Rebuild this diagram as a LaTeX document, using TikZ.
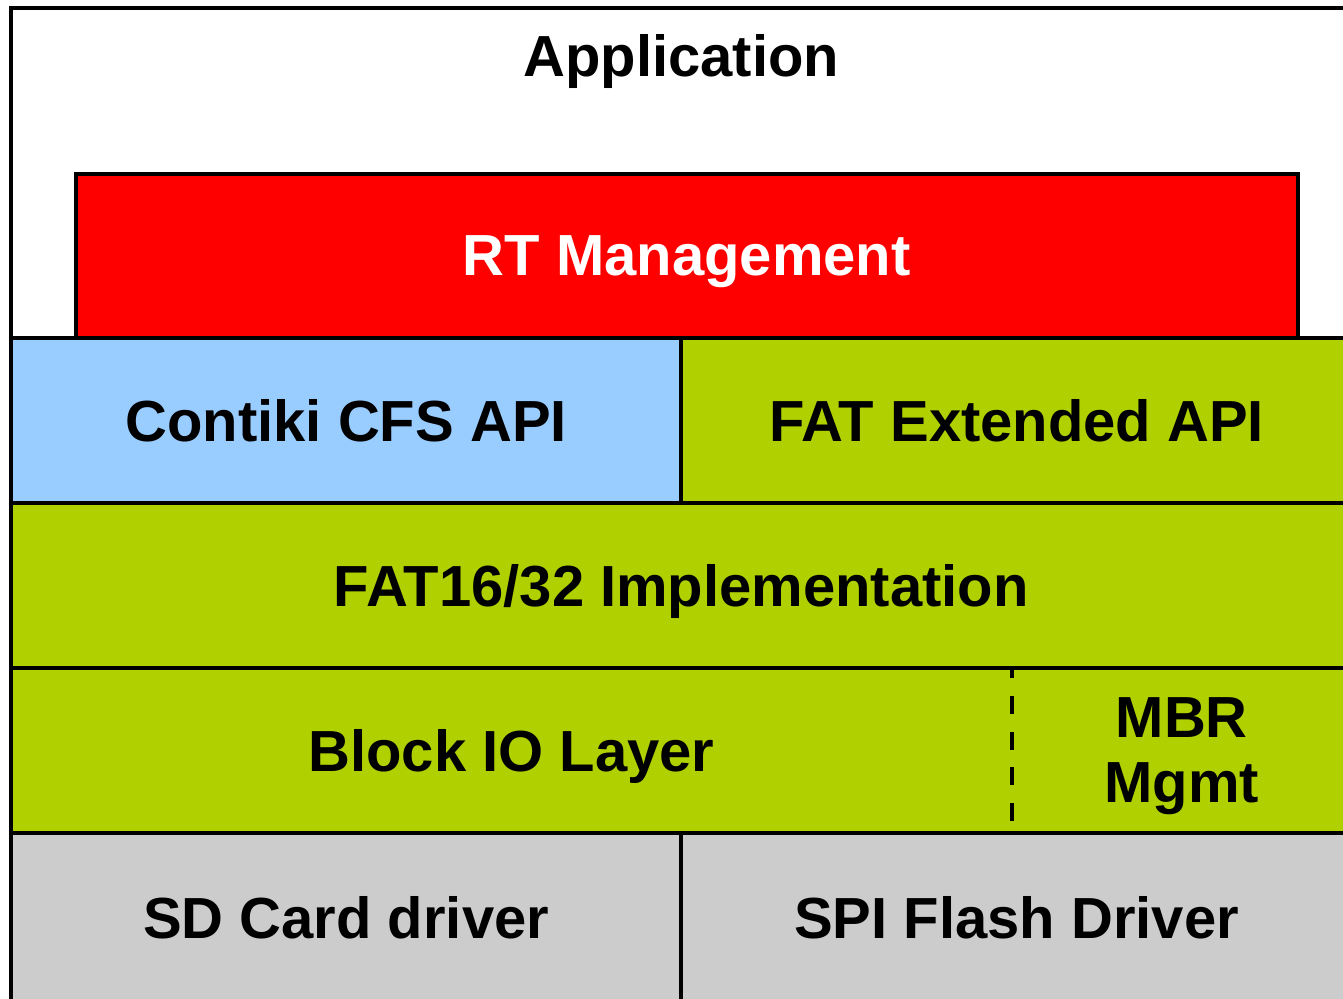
\documentclass[tikz,border=0pt]{standalone}
\usepackage{fontspec}
\setmainfont{Liberation Sans}
\usetikzlibrary{positioning}
\definecolor{rtred}{RGB}{255,0,0}
\definecolor{cfsblue}{RGB}{153,204,255}
\definecolor{fatgreen}{RGB}{176,208,0}
\definecolor{drvgray}{RGB}{204,204,204}

\begin{document}
\begin{tikzpicture}[
  x=0.02cm, y=-0.02cm,
  font=\fontsize{33}{37}\selectfont\bfseries,
  layer/.style={draw, line width=2.3pt, outer sep=0pt, inner sep=0pt, align=center, text depth=0pt, minimum height=3.3cm},
  half/.style={minimum width=13.41cm},
  full/.style={minimum width=26.82cm}
]
\clip (0,0) rectangle (1343,998);
\node[layer, full, fill=white, minimum height=6.6cm, anchor=north west] (app) at (11,8) {};
\node[text depth=0pt] (apptxt) at ([yshift=-0.94cm]app.north) {Application};
\node[layer, fill=rtred, text=white, minimum width=24.44cm, minimum height=3.28cm, anchor=south] (rt) at ([xshift=0.11cm]app.south) {RT Management};
\node[layer, half, fill=cfsblue, anchor=north west] (cfs) at (app.south west) {Contiki CFS API};
\node[layer, half, fill=fatgreen, anchor=north west] (fatx) at (cfs.north east) {FAT Extended API};
\node[layer, full, fill=fatgreen, anchor=north west] (fat) at (cfs.south west) {FAT16/32 Implementation};
% block io layer, split by a dashed line
\node[layer, draw=none, fill=fatgreen, minimum width=20.02cm, anchor=north west] (bio) at (fat.south west) {Block IO Layer};
\node[layer, draw=none, fill=fatgreen, minimum width=6.8cm, anchor=north west] (mbr) at (bio.north east) {MBR\\Mgmt};
\draw[line width=2.3pt] (bio.north west) rectangle (mbr.south east);
\draw[line width=2.3pt, dash pattern=on 10.2pt off 10.2pt, dash phase=4.5pt] (bio.north east) -- (bio.south east);
\node[layer, half, fill=drvgray, minimum height=3.4cm, anchor=north west] (sd) at (bio.south west) {SD Card driver};
\node[layer, half, fill=drvgray, minimum height=3.4cm, anchor=north west] (spi) at (sd.north east) {SPI Flash Driver};
\end{tikzpicture}
\end{document}
